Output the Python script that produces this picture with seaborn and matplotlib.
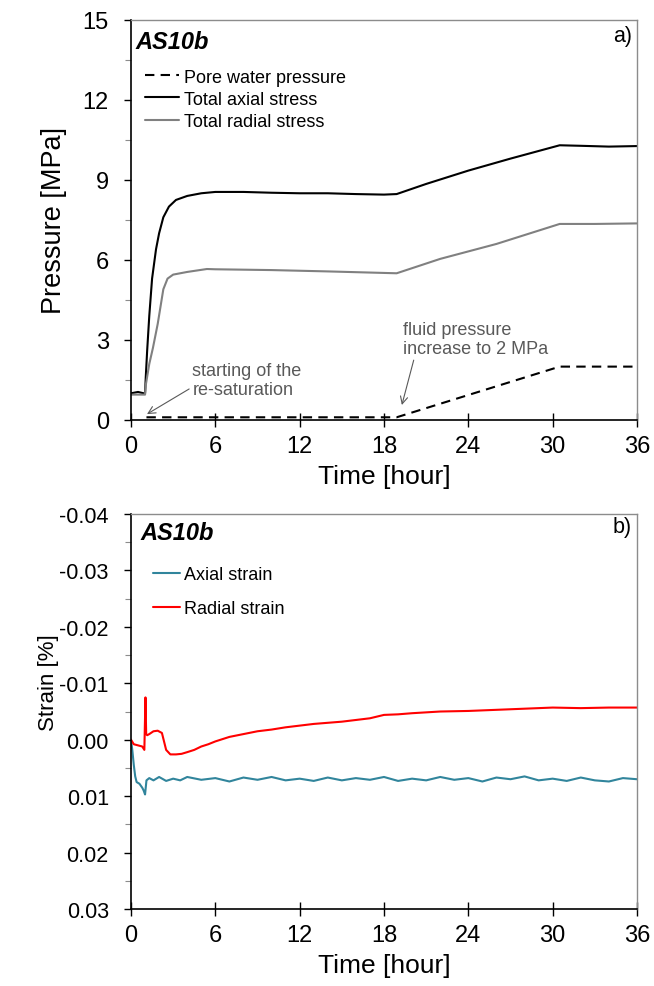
import numpy as np
import pandas as pd
import matplotlib
matplotlib.use("Agg")
import matplotlib.pyplot as plt
from matplotlib import ticker
import seaborn as sns

# ---- panel a) pressures [MPa] vs time [hour]
time_axial = [0, 0.5, 0.9, 1.0, 1.05, 1.15, 1.3, 1.5, 1.78, 2.0, 2.3, 2.7, 3.2, 4.0, 5.0, 6.0, 8.0,
              10.0, 12.0, 14.0, 16.0, 18.0, 18.9, 21.0, 24.0, 27.0, 30.5, 32.0, 34.0, 36.0]
axial_stress = [1.0, 1.05, 1.0, 1.0, 1.6, 2.6, 3.9, 5.3, 6.4, 7.0, 7.6, 8.0, 8.25, 8.4, 8.5, 8.55, 8.55,
                8.52, 8.5, 8.5, 8.47, 8.45, 8.47, 8.85, 9.35, 9.8, 10.3, 10.28, 10.25, 10.27]

time_radial = [0, 1.0, 1.05, 1.3, 1.56, 1.9, 2.3, 2.6, 3.0, 4.0, 5.4, 6.0, 10.0, 14.0, 18.9, 22.0, 26.0,
               30.5, 33.0, 36.0]
radial_stress = [0.95, 0.95, 1.3, 2.1, 2.7, 3.6, 4.9, 5.3, 5.45, 5.55, 5.66, 5.65, 5.62, 5.57, 5.5, 6.04,
                 6.6, 7.35, 7.35, 7.37]

time_pore = [1.1, 18.9, 30.5, 36.0]
pore_pressure = [0.1, 0.1, 2.0, 2.0]

# ---- panel b) strains [%] vs time [hour]
time_ax_strain = [0, 0.1, 0.2, 0.3, 0.4, 0.6, 0.8, 0.9, 1.0, 1.1, 1.3, 1.6, 2.0, 2.5, 3, 3.5, 4, 5, 6, 7,
                  8, 9, 10, 11, 12, 13, 14, 15, 16, 17, 18, 19, 20, 21, 22, 23, 24, 25, 26, 27, 28, 29,
                  30, 31, 32, 33, 34, 35, 36]
axial_strain = [0, 0.002, 0.0045, 0.0065, 0.0075, 0.0078, 0.0085, 0.009, 0.0097, 0.0072, 0.0068, 0.0072,
                0.0066, 0.0073, 0.0069, 0.0072, 0.0066, 0.0071, 0.0068, 0.0074, 0.0067, 0.0071, 0.0066,
                0.0072, 0.0069, 0.0073, 0.0067, 0.0072, 0.0068, 0.0071, 0.0066, 0.0073, 0.0069, 0.0072,
                0.0066, 0.0071, 0.0068, 0.0074, 0.0067, 0.0070, 0.0065, 0.0072, 0.0069, 0.0073, 0.0067,
                0.0072, 0.0074, 0.0068, 0.0070]

time_rad_strain = [0, 0.2, 0.5, 0.8, 0.95, 1.03, 1.08, 1.15, 1.3, 1.6, 1.9, 2.2, 2.5, 2.8, 3.2, 3.6, 4.0,
                   4.5, 5, 5.5, 6, 7, 8, 9, 10, 11, 12, 13, 14, 15, 16, 17, 18, 19, 20, 22, 24, 26, 28,
                   30, 32, 34, 36]
radial_strain = [0, 0.0008, 0.001, 0.0012, 0.0018, -0.0075, -0.001, -0.0008, -0.001, -0.0015, -0.0016,
                 -0.0012, 0.0018, 0.0026, 0.0026, 0.0025, 0.0022, 0.0018, 0.0012, 0.0008, 0.0003,
                 -0.0005, -0.001, -0.0015, -0.0018, -0.0022, -0.0025, -0.0028, -0.003, -0.0032, -0.0035,
                 -0.0038, -0.0044, -0.0045, -0.0047, -0.005, -0.0051, -0.0053, -0.0055, -0.0057,
                 -0.0056, -0.0057, -0.0057]

x_ticks = [0, 6, 12, 18, 24, 30, 36]

sns.set_style("ticks")
plt.rcParams['font.family'] = ['Liberation Sans', 'DejaVu Sans']
plt.rcParams.update({'text.color': 'black', 'axes.labelcolor': 'black',
                     'xtick.color': 'black', 'ytick.color': 'black'})

fig = plt.figure(figsize=(6.54, 9.87), dpi=100)
ax1 = fig.add_axes([0.2003, 0.5735, 0.7737, 0.4053])
ax2 = fig.add_axes([0.2003, 0.0780, 0.7737, 0.4002])

teal = "#31859C"


def style_axis(ax, ysize):
    ax.set_xlim(0, 36)
    ax.set_xticks(x_ticks)
    for side in ['top', 'right']:
        ax.spines[side].set_color('#8c8c8c')
        ax.spines[side].set_linewidth(1.0)
    for side in ['left', 'bottom']:
        ax.spines[side].set_color('black')
        ax.spines[side].set_linewidth(1.2)
    ax.tick_params(axis='x', direction='inout', length=10, width=1.0, labelsize=17, pad=6)
    ax.tick_params(axis='y', which='major', direction='out', length=5, width=1.0, labelsize=ysize, pad=11)
    ax.tick_params(axis='y', which='minor', direction='out', length=4, width=0.8, color='#8c8c8c')


# ---- a)
sns.lineplot(x=time_pore, y=pore_pressure, ax=ax1, color='black', linewidth=1.5,
             label='Pore water pressure')
sns.lineplot(x=time_axial, y=axial_stress, ax=ax1, color='black', linewidth=1.5, label='Total axial stress')
sns.lineplot(x=time_radial, y=radial_stress, ax=ax1, color='#808080', linewidth=1.5,
             label='Total radial stress')
ax1.lines[0].set_linestyle((0, (4.5, 3)))
style_axis(ax1, 17)
ax1.set_ylim(0, 15)
ax1.set_yticks([0, 3, 6, 9, 12, 15])
ax1.yaxis.set_minor_locator(ticker.MultipleLocator(1.5))
ax1.set_xlabel("Time [hour]", fontsize=19, labelpad=5)
ax1.set_ylabel("Pressure [MPa]", fontsize=19.5)
ax1.yaxis.set_label_coords(-0.127, 0.5)
ax1.legend(frameon=False, loc='upper left', bbox_to_anchor=(0.028, 0.878), fontsize=13,
           handlelength=1.9, handletextpad=0.25, labelspacing=0.28, borderpad=0, borderaxespad=0)
ax1.text(0.008, 0.947, "AS10b", transform=ax1.transAxes, fontsize=17, fontweight='bold',
         fontstyle='italic', va='center', ha='left')
ax1.text(0.99, 0.962, "a)", transform=ax1.transAxes, fontsize=15.5, va='center', ha='right')
ax1.annotate("starting of the\nre-saturation", xy=(1.14, 0.22), xytext=(4.37, 1.5), fontsize=13,
             color='#595959', va='center', ha='left', linespacing=1.1,
             arrowprops=dict(arrowstyle='->', color='#595959', lw=0.8, shrinkA=0, shrinkB=0,
                             relpos=(0, 0.3)))
ax1.annotate("fluid pressure\nincrease to 2 MPa", xy=(19.27, 0.56), xytext=(19.35, 3.04), fontsize=13,
             color='#595959', va='center', ha='left', linespacing=1.15,
             arrowprops=dict(arrowstyle='->', color='#595959', lw=0.8, shrinkA=0, shrinkB=0,
                             relpos=(0.08, 0.0)))

# ---- b)
sns.lineplot(x=time_ax_strain, y=axial_strain, ax=ax2, color=teal, linewidth=1.5, label='Axial strain')
sns.lineplot(x=time_rad_strain, y=radial_strain, ax=ax2, color='#FF0000', linewidth=1.5,
             label='Radial strain')
style_axis(ax2, 15.5)
ax2.set_ylim(0.03, -0.04)
ax2.set_yticks([-0.04, -0.03, -0.02, -0.01, 0.0, 0.01, 0.02, 0.03])
ax2.yaxis.set_minor_locator(ticker.MultipleLocator(0.005))
ax2.yaxis.set_major_formatter(ticker.FormatStrFormatter('%.2f'))
ax2.set_xlabel("Time [hour]", fontsize=19, labelpad=5)
ax2.set_ylabel("Strain [%]", fontsize=16)
ax2.yaxis.set_label_coords(-0.142, 0.575)
ax2.legend(frameon=False, loc='upper left', bbox_to_anchor=(0.0435, 0.868), fontsize=13,
           handlelength=1.5, handletextpad=0.2, labelspacing=0.95, borderpad=0, borderaxespad=0)
ax2.text(0.018, 0.954, "AS10b", transform=ax2.transAxes, fontsize=17, fontweight='bold',
         fontstyle='italic', va='center', ha='left')
ax2.text(0.99, 0.968, "b)", transform=ax2.transAxes, fontsize=15.5, va='center', ha='right')

fig.savefig("out.png", dpi=100)
